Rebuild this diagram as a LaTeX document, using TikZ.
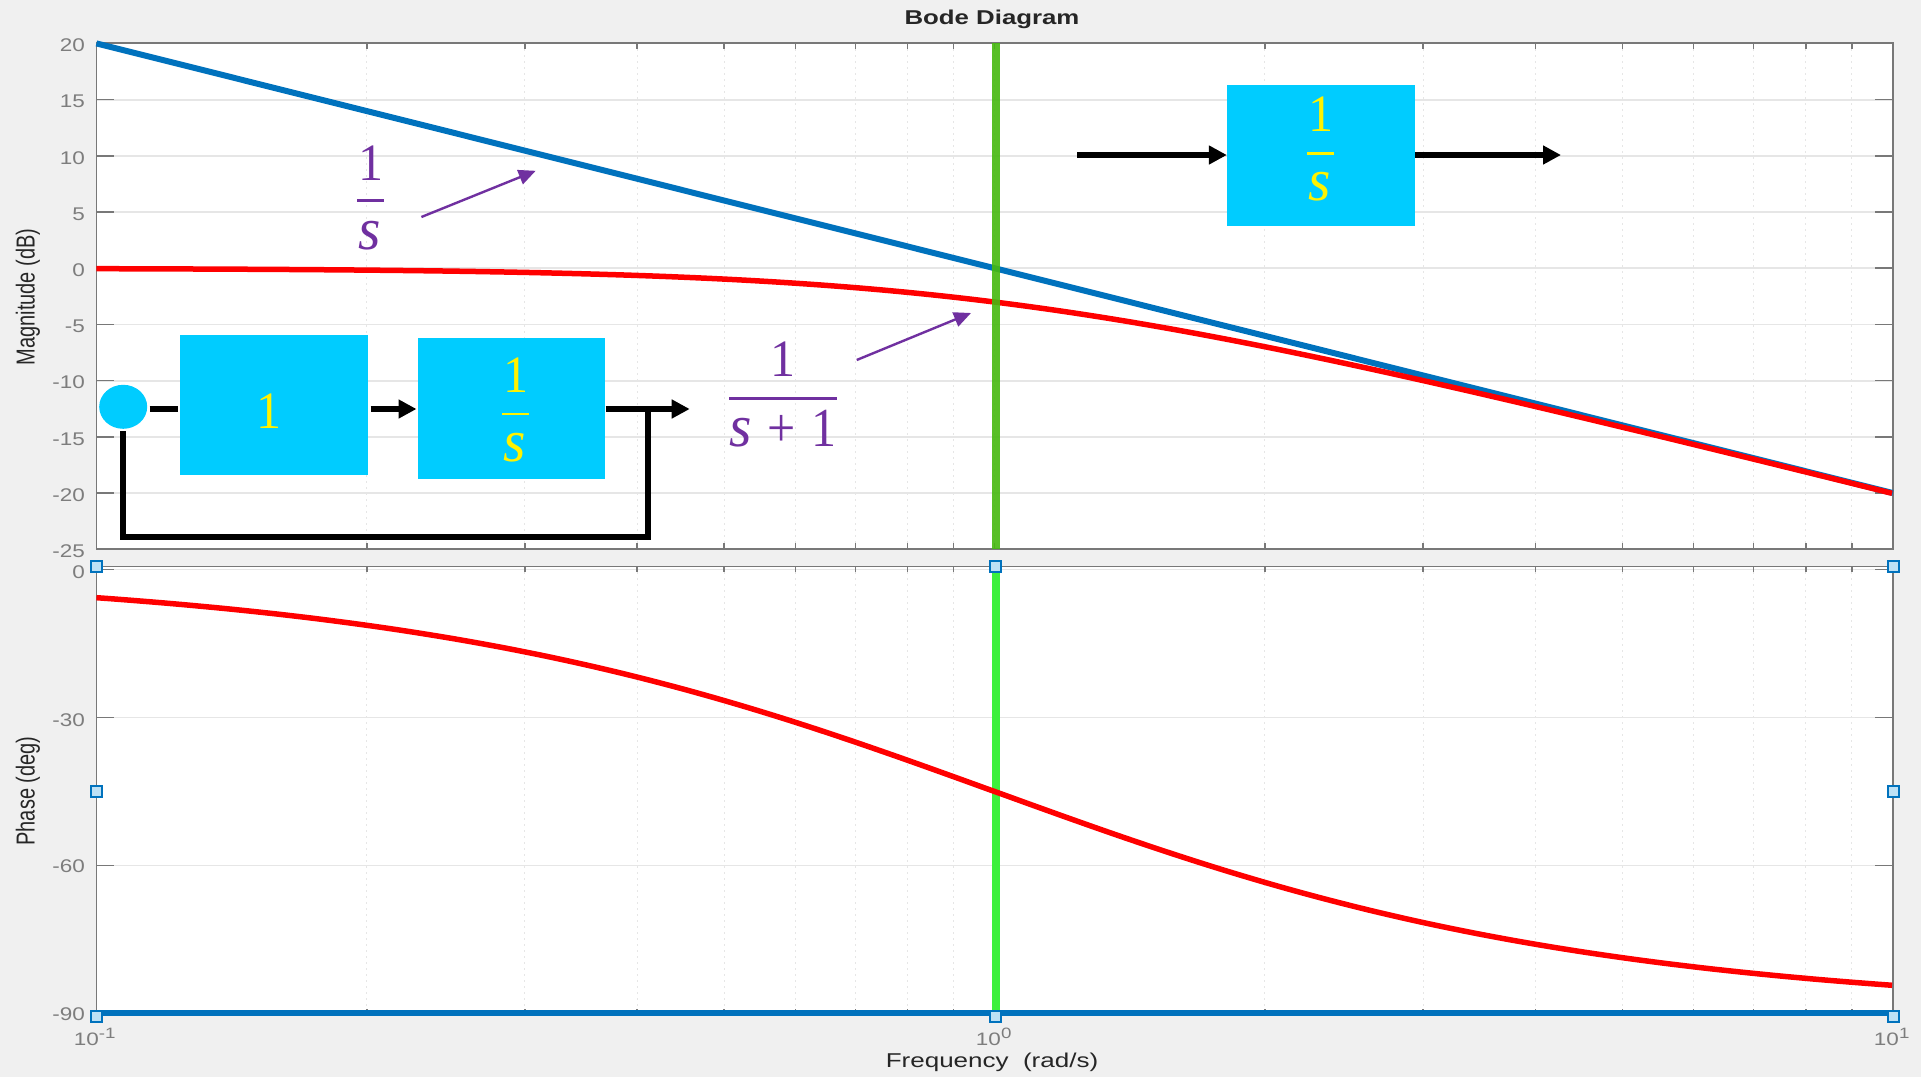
\documentclass[tikz,border=0pt]{standalone}
\usepackage{fontspec}
\usepackage{graphicx}
\setmainfont{Liberation Sans}
\newfontfamily\eqfont{Liberation Serif}
\usetikzlibrary{arrows.meta,shapes.geometric}
\definecolor{figbg}{RGB}{240,240,240}
\definecolor{axisgray}{RGB}{120,120,120}
\definecolor{ticktext}{RGB}{125,125,125}
\definecolor{gridgray}{RGB}{230,230,230}
\definecolor{matblue}{RGB}{0,114,189}
\definecolor{blockcyan}{RGB}{0,204,255}
\definecolor{notepurple}{RGB}{112,48,160}
\definecolor{darkgreen}{RGB}{70,185,15}
\definecolor{brightgreen}{RGB}{60,240,60}
\definecolor{handlefill}{RGB}{190,225,245}
\newcommand{\xlog}[1]{96.4+898.2*(#1+1)}
\newcommand{\wides}{\scalebox{1.15}[1.2]{\itshape s}}
\tikzset{
  majorgrid/.style={draw=gridgray,line width=1.8pt},
  minorgrid/.style={draw=gridgray,line width=1pt,dash pattern=on 2pt off 4pt},
  axisline/.style={draw=axisgray,line width=1.8pt},
  tickmark/.style={draw=axisgray,line width=1.6pt},
  ticklabel/.style={text=ticktext,font=\fontsize{18}{20}\selectfont,anchor=east,inner sep=0pt},
  decadelabel/.style={text=ticktext,font=\fontsize{18}{20}\selectfont,anchor=base,inner sep=0pt},
  axislabel/.style={text=black!85,font=\fontsize{20}{24}\selectfont,inner sep=0pt},
  curvered/.style={draw=red,line width=5.5pt},
  curveblue/.style={draw=matblue,line width=6pt},
  block/.style={fill=blockcyan,draw=none,inner sep=0pt},
  yellowtext/.style={text=yellow,font=\eqfont\fontsize{50}{56}\selectfont,inner sep=0pt},
  purpletext/.style={text=notepurple,font=\eqfont\fontsize{50}{56}\selectfont,inner sep=0pt},
  flow/.style={draw=black,line width=6pt},
  flowarrow/.style={flow,-{Triangle[length=18pt,width=18pt]}},
  notearrow/.style={draw=notepurple,line width=2.4pt,-{Triangle[length=17pt,width=15pt]}},
  handle/.style={draw=matblue,fill=handlefill,line width=2pt,minimum size=11pt,inner sep=0pt,rectangle},
}
\begin{document}
\begin{tikzpicture}[x=1pt,y=-1pt]
\useasboundingbox (0,0) rectangle (1921,1077);
\fill[figbg] (0,0) rectangle (1921,1077);
% plot areas
\fill[white] (96.4,43.3) rectangle (1892.7,549.3);
\fill[white] (96.4,566.4) rectangle (1892.7,1015);
% horizontal grid upper
\foreach \d in {15,10,...,-20}
  \draw[majorgrid] (96.4,{268.2-11.24*\d}) -- (1892.7,{268.2-11.24*\d});
% horizontal grid lower
\foreach \d in {0,-30,-60}
  \draw[majorgrid] (96.4,{569.5-4.933*\d}) -- (1892.7,{569.5-4.933*\d});
% vertical grid and ticks
\foreach \dec in {-1,0}
 \foreach \k in {2,...,10} {
  \pgfmathsetmacro{\xx}{96.4+898.2*(\dec+1+log10(\k))}
  \draw[minorgrid] (\xx,43.3) -- (\xx,549.3);
  \draw[minorgrid] (\xx,566.4) -- (\xx,1015);
  \draw[tickmark] (\xx,43.3) -- (\xx,49.3);
  \draw[tickmark] (\xx,549.3) -- (\xx,543.3);
  \draw[tickmark] (\xx,566.4) -- (\xx,572.4);
  \draw[tickmark] (\xx,1015) -- (\xx,1009);
 }
% y ticks
\foreach \d in {15,10,...,-20} {
  \draw[tickmark] (96.4,{268.2-11.24*\d}) -- (114.4,{268.2-11.24*\d});
  \draw[tickmark] (1892.7,{268.2-11.24*\d}) -- (1874.7,{268.2-11.24*\d});
}
\foreach \d in {0,-30,-60} {
  \draw[tickmark] (96.4,{569.5-4.933*\d}) -- (114.4,{569.5-4.933*\d});
  \draw[tickmark] (1892.7,{569.5-4.933*\d}) -- (1874.7,{569.5-4.933*\d});
}
% axes boxes
\draw[axisline] (96.4,43.3) rectangle (1892.7,549.3);
\draw[axisline] (96.4,566.4) rectangle (1892.7,1015);
% tick labels
\foreach \d in {20,15,10,5,0,-5,-10,-15,-20,-25}
  \node[ticklabel] (mag\d) at (85,{270.2-11.24*\d}) {\scalebox{1.25}[1.02]{\d}};
\foreach \d/\yy in {0/572,-30/720,-60/866,-90/1014.6}
  \node[ticklabel] (ph\d) at (85,\yy) {\scalebox{1.25}[1.02]{\d}};
\node[decadelabel] (decA) at (95,1045) {\scalebox{1.25}[1]{10$^{\mbox{\fontsize{15}{16}\selectfont -1}}$}};
\node[decadelabel] (decB) at (994,1045) {\scalebox{1.25}[1]{10$^{\mbox{\fontsize{15}{16}\selectfont 0}}$}};
\node[decadelabel] (decC) at (1892,1045) {\scalebox{1.25}[1]{10$^{\mbox{\fontsize{15}{16}\selectfont 1}}$}};
% titles
\node[axislabel,font=\bfseries\fontsize{20}{24}\selectfont] (title) at (992,19) {\scalebox{1.29}[1]{Bode Diagram}};
\node[axislabel] (xlabel) at (992,1062) {\scalebox{1.3}[1]{Frequency\ \ (rad/s)}};
\node[axislabel,rotate=90] (ylabA) at (28,297) {\scalebox{1}[1.3]{Magnitude (dB)}};
\node[axislabel,rotate=90] (ylabB) at (28,791) {\scalebox{1}[1.3]{Phase (deg)}};
% green marker of the lower plot goes under the blue line
\draw[draw=brightgreen,line width=8pt] (995.5,566.4) -- (995.5,1015);
% curves
\draw[curveblue] plot[domain=-1:1,samples=3] ({\xlog{\x}},{268.2+11.24*20*\x});
\draw[curvered] plot[domain=-1:1,samples=120,smooth] ({\xlog{\x}},{268.2+11.24*10*log10(1+10^(2*\x))});
\draw[curveblue] (96.4,1012.8) -- (1892.7,1012.8);
\draw[curvered] plot[domain=-1:1,samples=120,smooth] ({\xlog{\x}},{569.5+4.933*atan(10^\x)});
\draw[draw=darkgreen,line width=8pt,opacity=.9] (995.5,43.3) -- (995.5,549.3);
% handles
\foreach \n/\hx/\hy in {a/96.4/566.4,b/995.5/566.4,c/1893/566.4,d/96.4/791,e/1893/791,f/96.4/1016.7,g/995.5/1016.7,h/1893/1016.7}
  \node[handle] (hd\n) at (\hx,\hy) {};
% single block, top right
\node[block,minimum width=187.7pt,minimum height=140.8pt] (blockC) at (1320.9,155.4) {};
\coordinate (inC) at (1077,155);
\coordinate (outC) at (1561,155);
\draw[flowarrow] (inC) -- (blockC.west |- inC);
\draw[flowarrow] (blockC.east |- outC) -- (outC);
\node[yellowtext] (cnum) at (1321,114) {\scalebox{1}[1.05]{1}};
\draw[draw=yellow,line width=2.4pt] (1307,153.5) -- (1334,153.5);
\node[yellowtext] (cden) at (1320,187) {\wides};
% feedback loop
\node[block,minimum width=187.5pt,minimum height=140.3pt] (blockA) at (274.15,405) {};
\node[block,minimum width=187.5pt,minimum height=140.7pt] (blockB) at (511.65,408.75) {};
\node[ellipse,fill=blockcyan,inner sep=0pt,minimum width=48pt,minimum height=44pt] (sum) at (123.2,406.8) {};
\coordinate (out) at (689.7,409);
\coordinate (tap) at (648.2,409);
\coordinate (corner) at (123.2,537.3);
\draw[flow] (149.6,409) -- (178,409);
\draw[flowarrow] (370.5,409) -- (416.5,409);
\draw[flowarrow] (blockB.east |- out) -- (out);
\draw[flow,line join=miter] (tap) -- (tap |- corner) -- (corner) -- (123.2,430.8);
\node[yellowtext] (anum) at (268.8,411) {\scalebox{1}[1.05]{1}};
\node[yellowtext] (bnum) at (515.6,375.5) {\scalebox{1}[1.05]{1}};
\draw[draw=yellow,line width=2.4pt] (502,414) -- (529,414);
\node[yellowtext] (bden) at (514.5,448) {\wides};
% annotation 1/s
\node[purpletext] (pnumA) at (370.5,163) {\scalebox{1}[1.05]{1}};
\draw[draw=notepurple,line width=2.4pt] (357,200.6) -- (384,200.6);
\node[purpletext] (pdenA) at (369.5,236) {\wides};
\coordinate (pAfrom) at (421.4,217);
\coordinate (pAto) at (535.7,170.8);
\draw[notearrow] (pAfrom) -- (pAto);
% annotation 1/(s+1)
\node[purpletext] (pnumB) at (783,359) {\scalebox{1}[1.05]{1}};
\draw[draw=notepurple,line width=2.4pt] (729,398.4) -- (836.6,398.4);
\node[purpletext] (pdenB) at (783,429) {\wides\hspace{16pt}\scalebox{1}[1.1]{+}\hspace{16pt}\scalebox{1}[1.1]{1}};
\coordinate (pBfrom) at (856.7,360);
\coordinate (pBto) at (971,313);
\draw[notearrow] (pBfrom) -- (pBto);
\end{tikzpicture}
\end{document}
